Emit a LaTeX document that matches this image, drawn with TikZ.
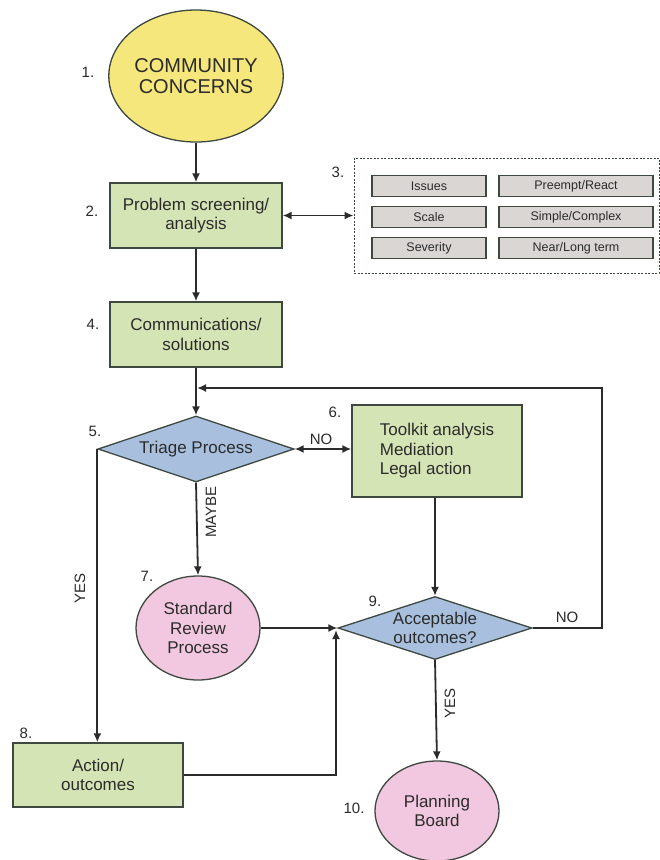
\documentclass[tikz,border=0pt]{standalone}
\usepackage{fontspec}
\setmainfont{Liberation Sans}
\usetikzlibrary{shapes.geometric,arrows.meta}
\definecolor{ink}{HTML}{2B2B2B}
\definecolor{edge}{HTML}{3E4840}
\definecolor{sunyellow}{HTML}{F5E77C}
\definecolor{sage}{HTML}{D5E4B5}
\definecolor{skyblue}{HTML}{A8C0DE}
\definecolor{rose}{HTML}{F1C8DF}
\definecolor{stone}{HTML}{D9D6D3}
\tikzset{
  txt/.style={font=\fontsize{17}{19.5}\selectfont, text=ink, align=center},
  procbox/.style={txt, draw=edge, line width=1.3pt, fill=sage, inner sep=0pt},
  oval/.style={txt, ellipse, draw=edge, line width=1.3pt, inner sep=0pt},
  decide/.style={diamond, draw=edge, line width=1.3pt, fill=skyblue, inner sep=0pt},
  critbox/.style={draw=edge, line width=1.2pt, fill=stone, minimum height=21pt,
    inner sep=0pt, font=\fontsize{12.5}{14}\selectfont, text=ink},
  num/.style={font=\fontsize{15}{18}\selectfont, text=ink},
  tag/.style={font=\fontsize{15}{18}\selectfont, text=ink},
  arr/.style={-{Latex[length=9pt,width=8pt]}, line width=1.8pt, draw=ink},
  dual/.style={{Latex[length=9pt,width=8pt]}-{Latex[length=9pt,width=8pt]}, line width=1.8pt, draw=ink},
}
\begin{document}
\begin{tikzpicture}[x=1pt,y=-1pt]
\useasboundingbox[fill=white] (0,0) rectangle (660,860);

% 1. community concerns
\node[oval, fill=sunyellow, minimum width=165pt, minimum height=132pt,
      font=\fontsize{20}{21}\selectfont] (e1) at (196,76) {COMMUNITY\\CONCERNS};
\node[num] (n1) at (88,72) {1.};

% 2. screening
\node[procbox, minimum width=172pt, minimum height=65pt] (b2) at (196,215.5) {Problem screening/\\analysis};
\node[num] (n2) at (92,211) {2.};

% 3. screening criteria
\node[draw=edge, line width=1pt, dash pattern=on 2pt off 1.5pt, fill=white,
      minimum width=305pt, minimum height=115pt, inner sep=0pt] (crit) at (506.5,215.5) {};
\node[num] (n3) at (338,172) {3.};
\node[critbox, minimum width=114pt] (c1) at (429,186) {Issues};
\node[critbox, minimum width=154pt] (c2) at (576,186) {Preempt/React};
\node[critbox, minimum width=114pt] (c3) at (429,217) {Scale};
\node[critbox, minimum width=154pt] (c4) at (576,217) {Simple/Complex};
\node[critbox, minimum width=114pt] (c5) at (429,248) {Severity};
\node[critbox, minimum width=154pt] (c6) at (576,248) {Near/Long term};

% 4. communications
\node[procbox, minimum width=172pt, minimum height=65pt] (b4) at (196,334.5) {Communications/\\solutions};
\node[num] (n4) at (93,324) {4.};

% 5. triage
\node[decide, minimum width=196pt, minimum height=66pt] (d5) at (196,449) {};
\node[txt] (t5) at (d5.center) {Triage Process};
\node[num] (n5) at (95,431) {5.};

% 6. toolkit
\node[procbox, align=left, minimum width=170pt, minimum height=92pt] (b6) at (437,451)
  {Toolkit analysis\\Mediation\\Legal action};
\node[num] (n6) at (335,412) {6.};

% 7. standard review
\node[oval, fill=rose, minimum width=124pt, minimum height=104pt] (e7) at (198,628) {Standard\\Review\\Process};
\node[num] (n7) at (147,576) {7.};

% 8. action
\node[procbox, minimum width=170pt, minimum height=64pt] (b8) at (98,775) {Action/\\outcomes};
\node[num] (n8) at (26,733) {8.};

% 9. acceptable outcomes
\node[decide, minimum width=194pt, minimum height=63pt] (d9) at (435,628) {};
\node[txt] (t9) at (d9.center) {Acceptable\\outcomes?};
\node[num] (n9) at (375,601) {9.};

% 10. planning board
\node[oval, fill=rose, minimum width=124pt, minimum height=100pt] (e10) at (437,811) {Planning\\Board};
\node[num] (n10) at (354,808) {10.};

% helper points for routed connectors
\coordinate (loopR) at (602,388);
\coordinate (loopIn) at (197,388);
\coordinate (merge) at (336,630);

% connectors
\draw[arr] (e1.south) -- (b2.north);
\draw[dual] (b2.east |- crit.west) -- (crit.west);
\draw[arr] (b2.south) -- (b4.north);
\draw[arr] (b4.south) -- (d5.north);
\draw[dual] (d5.east) -- (b6.west |- d5.east);
\draw[arr] (d5.south) -- (e7.north);
\draw[arr] (d5.west) -- (d5.west |- b8.north);
\draw[arr] (b6.south -| d9.north) -- (d9.north);
\draw[arr] (e7.east) -- (d9.west);
\draw[arr] (b8.east) -| (merge);
\draw[arr] (d9.south) -- (e10.north);
\draw[arr] (d9.east) -- (loopR |- d9.east) -- (loopR) -- (loopIn);

% connector labels
\node[tag] (lno1) at (321,439) {NO};
\node[tag, rotate=90] (lmaybe) at (211,512) {MAYBE};
\node[tag, rotate=90] (lyes1) at (80,588) {YES};
\node[tag] (lno2) at (567,617) {NO};
\node[tag, rotate=90] (lyes2) at (450,703) {YES};
\end{tikzpicture}
\end{document}
